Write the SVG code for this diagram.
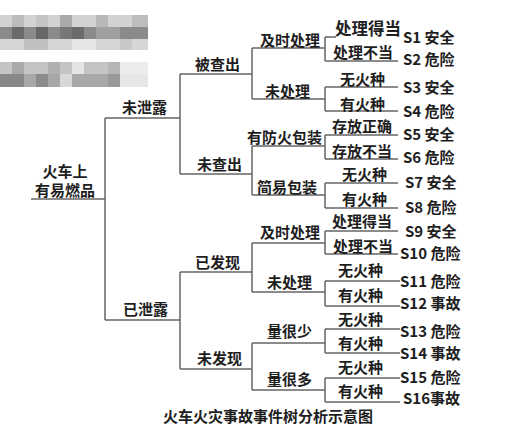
<svg xmlns="http://www.w3.org/2000/svg" width="532" height="438" viewBox="0 0 532 438">
<style>
text{font-family:"Noto Sans CJK SC","Noto Sans",sans-serif;font-weight:bold;font-size:15px;fill:#1e1e1e}
.ln{fill:none;stroke:#666;stroke-width:1.5}
.s{font-size:15px}
</style>
<rect width="532" height="438" fill="#fff"/>
<g id="blur">
<g>
<rect x="0" y="15" width="148" height="12" fill="#d2d2d2"/>
<rect x="12" y="15" width="12" height="12" fill="#bcbcbc"/>
<rect x="36" y="15" width="12" height="12" fill="#c4c4c4"/>
<rect x="60" y="15" width="12" height="12" fill="#aaaaaa"/>
<rect x="96" y="15" width="12" height="12" fill="#b8b8b8"/>
<rect x="132" y="15" width="16" height="12" fill="#bdbdbd"/>
<rect x="0" y="27" width="148" height="12" fill="#8a8a8a"/>
<rect x="12" y="27" width="12" height="12" fill="#6a6a6a"/>
<rect x="36" y="27" width="12" height="12" fill="#666"/>
<rect x="60" y="27" width="12" height="12" fill="#777"/>
<rect x="72" y="27" width="12" height="12" fill="#6b6b6b"/>
<rect x="96" y="27" width="24" height="12" fill="#a0a0a0"/>
<rect x="0" y="39" width="148" height="11" fill="#d6d6d6"/>
<rect x="24" y="39" width="24" height="11" fill="#c0c0c0"/>
<rect x="72" y="39" width="24" height="11" fill="#e6e6e6"/>
<rect x="120" y="39" width="12" height="11" fill="#c8c8c8"/>
</g>
<g>
<rect x="0" y="62" width="148" height="12" fill="#c4c4c4"/>
<rect x="12" y="62" width="12" height="12" fill="#aaa"/>
<rect x="48" y="62" width="12" height="12" fill="#b0b0b0"/>
<rect x="72" y="62" width="12" height="12" fill="#e4e4e4"/>
<rect x="108" y="62" width="12" height="12" fill="#b6b6b6"/>
<rect x="120" y="62" width="28" height="12" fill="#ececec"/>
<rect x="0" y="74" width="148" height="13" fill="#a8a8a8"/>
<rect x="0" y="74" width="24" height="13" fill="#888"/>
<rect x="36" y="74" width="12" height="13" fill="#8c8c8c"/>
<rect x="60" y="74" width="12" height="13" fill="#d8d8d8"/>
<rect x="108" y="74" width="12" height="13" fill="#999"/>
<rect x="120" y="74" width="28" height="13" fill="#e6e6e6"/>
</g>
</g>
<g id="connectors" class="ln">
<path d="M31,199H105M105,118V320M105,118H180M105,320H180"/>
<path d="M180,74V174M180,74H252M180,174H252"/>
<path d="M252,48V99M252,48H325M252,99H325"/>
<path d="M325,37V61M325,37H336M325,61H398"/>
<path d="M325,87V111M325,87H398M325,111H398"/>
<path d="M252,146V195M252,146H325M252,195H325"/>
<path d="M325,135V159M325,135H398M325,159H398"/>
<path d="M325,183V208M325,183H398M325,208H398"/>
<path d="M180,272V369M180,272H252M180,369H252"/>
<path d="M252,243V292M252,243H325M252,292H325"/>
<path d="M325,231V254M325,231H398M325,254H398"/>
<path d="M325,281V306M325,281H400M325,306H400"/>
<path d="M252,343V390M252,343H325M252,390H325"/>
<path d="M325,329V353M325,329H400M325,353H400"/>
<path d="M325,378V402M325,378H400M325,402H400"/>
</g>
<g id="root"><text x="65" y="177" text-anchor="middle">火车上</text><text x="65" y="196" text-anchor="middle">有易燃品</text></g>
<g id="n-weixielu"><text x="122" y="113">未泄露</text></g>
<g id="n-yixielu"><text x="123" y="315">已泄露</text></g>
<g id="n-beichachu"><text x="195" y="70">被查出</text></g>
<g id="n-weichachu"><text x="197" y="170">未查出</text></g>
<g id="n-yifaxian"><text x="195" y="268">已发现</text></g>
<g id="n-weifaxian"><text x="197" y="364">未发现</text></g>
<g id="n-jishi1"><text x="260" y="46">及时处理</text></g>
<g id="n-weichuli1"><text x="265" y="97">未处理</text></g>
<g id="n-fanghuo"><text x="247" y="143">有防火包装</text></g>
<g id="n-jianyi"><text x="257" y="193">简易包装</text></g>
<g id="n-jishi2"><text x="260" y="238">及时处理</text></g>
<g id="n-weichuli2"><text x="267" y="288">未处理</text></g>
<g id="n-henshao"><text x="267" y="337">量很少</text></g>
<g id="n-henduo"><text x="267" y="385">量很多</text></g>
<g id="leaves">
<text x="335" y="35" style="font-size:16.5px">处理得当</text>
<text x="333" y="58">处理不当</text>
<text x="340" y="85">无火种</text>
<text x="340" y="110">有火种</text>
<text x="332" y="132">存放正确</text>
<text x="332" y="157">存放不当</text>
<text x="342" y="180">无火种</text>
<text x="342" y="205">有火种</text>
<text x="332" y="227">处理得当</text>
<text x="333" y="252">处理不当</text>
<text x="338" y="276">无火种</text>
<text x="338" y="301">有火种</text>
<text x="338" y="325">无火种</text>
<text x="338" y="349">有火种</text>
<text x="338" y="373">无火种</text>
<text x="338" y="397">有火种</text>
</g>
<g id="outcomes">
<text x="403" y="43">S1 安全</text>
<text x="403" y="65">S2 危险</text>
<text x="403" y="93">S3 安全</text>
<text x="403" y="117">S4 危险</text>
<text x="403" y="140">S5 安全</text>
<text x="403" y="163">S6 危险</text>
<text x="405" y="188">S7 安全</text>
<text x="405" y="213">S8 危险</text>
<text x="405" y="237">S9 安全</text>
<text x="400" y="259">S10 危险</text>
<text x="400" y="287">S11 危险</text>
<text x="400" y="309">S12 事故</text>
<text x="400" y="337">S13 危险</text>
<text x="400" y="359">S14 事故</text>
<text x="400" y="383">S15 危险</text>
<text x="403" y="404">S16事故</text>
</g>
<g id="title"><text x="268" y="422" text-anchor="middle">火车火灾事故事件树分析示意图</text></g>
</svg>
